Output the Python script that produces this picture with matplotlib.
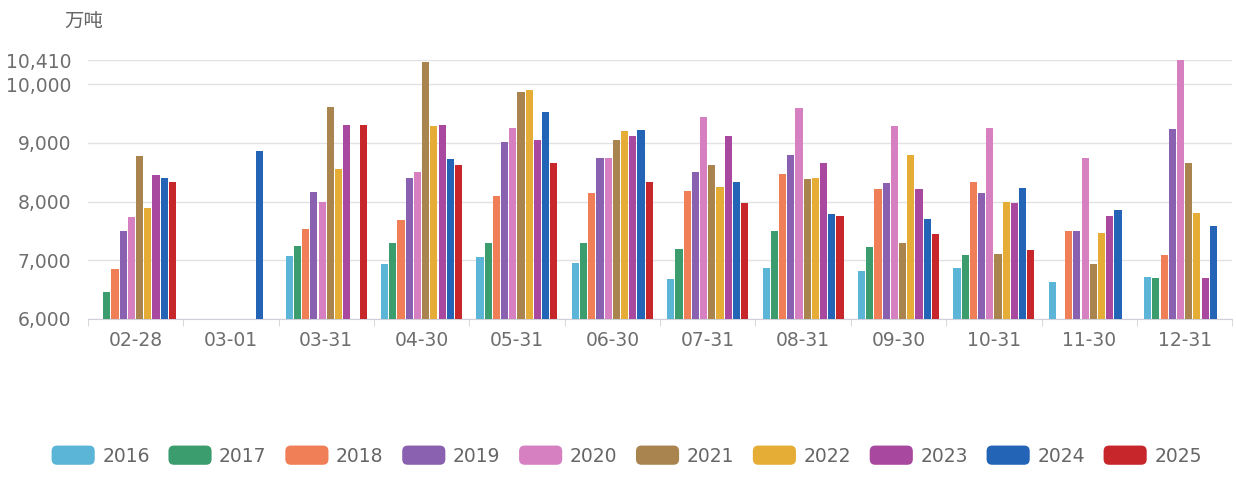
import numpy as np
import matplotlib
matplotlib.use("Agg")
import matplotlib.pyplot as plt
from matplotlib.patches import FancyBboxPatch, Patch
from matplotlib.legend_handler import HandlerPatch

plt.rcParams['font.family'] = ['DejaVu Sans', 'Noto Sans CJK SC']

dates = ['02-28', '03-01', '03-31', '04-30', '05-31', '06-30',
         '07-31', '08-31', '09-30', '10-31', '11-30', '12-31']
years = ['2016', '2017', '2018', '2019', '2020', '2021', '2022', '2023', '2024', '2025']
nan = np.nan

# 万吨，每个年份一条序列，按日期排列
v2016 = [nan, nan, 7070, 6940, 7050, 6950, 6680, 6870, 6820, 6860, 6630, 6710]
v2017 = [6450, nan, 7240, 7290, 7300, 7300, 7190, 7500, 7230, 7080, nan, 6690]
v2018 = [6850, nan, 7540, 7680, 8100, 8140, 8180, 8470, 8220, 8330, 7500, 7090]
v2019 = [7490, nan, 8170, 8410, 9010, 8740, 8500, 8800, 8310, 8150, 7500, 9230]
v2020 = [7740, nan, 7990, 8510, 9250, 8740, 9440, 9590, 9290, 9260, 8740, 10410]
v2021 = [8770, nan, 9620, 10380, 9870, 9050, 8620, 8380, 7290, 7110, 6930, 8660]
v2022 = [7890, nan, 8550, 9290, 9910, 9210, 8250, 8410, 8790, 7990, 7460, 7800]
v2023 = [8450, nan, 9300, 9300, 9050, 9120, 9110, 8660, 8220, 7970, 7750, 6690]
v2024 = [8400, 8870, nan, 8730, 9530, 9220, 8330, 7780, 7710, 8230, 7860, 7590]
v2025 = [8340, nan, 9310, 8620, 8650, 8340, 7980, 7750, 7450, 7170, nan, nan]
series = [v2016, v2017, v2018, v2019, v2020, v2021, v2022, v2023, v2024, v2025]

colors = ['#5bb5d7', '#3b9c6d', '#f07e56', '#8a60b0', '#d680c2',
          '#a9844f', '#e6ad36', '#a9489f', '#2464b6', '#c7262b']

y_ticks = [6000, 7000, 8000, 9000, 10000, 10410]

fig = plt.figure(figsize=(12.36, 4.78), dpi=100)
ax = fig.add_axes([0.071, 0.333, 0.926, 0.541])

x = np.arange(len(dates))
slot = 0.086
for i, (vals, c) in enumerate(zip(series, colors)):
    offs = (i - (len(series) - 1) / 2) * slot
    ax.bar(x + offs, vals, width=0.075, color=c, linewidth=0, zorder=3)

ax.set_xlim(-0.5, len(dates) - 0.5)
ax.set_ylim(6000, 10410)
ax.set_yticks(y_ticks)
ax.set_yticklabels([f'{t:,}' for t in y_ticks])
ax.set_xticks(x)
ax.set_xticklabels(dates)
ax.set_xticks(np.arange(-0.5, len(dates)), minor=True)

ax.grid(axis='y', color='#e1e1e6', linewidth=1, zorder=0)
for s in ['top', 'right', 'left']:
    ax.spines[s].set_visible(False)
ax.spines['bottom'].set_color('#d0d0d8')
ax.tick_params(axis='y', length=0, labelsize=13.5, labelcolor='#6e6e6e', pad=12)
ax.tick_params(axis='x', which='major', length=0, labelsize=13.5, labelcolor='#6e6e6e', pad=9)
ax.tick_params(axis='x', which='minor', length=5, color='#d0d0d8')

fig.text(0.052, 0.955, '万吨', fontsize=14, color='#666666', ha='left', va='center',
         family='Noto Sans CJK SC')


def rounded_patch(legend, orig_handle, xdescent, ydescent, width, height, fontsize):
    return FancyBboxPatch((-xdescent, -ydescent), width, height,
                          boxstyle='round,pad=0,rounding_size=4')


handles = [Patch(facecolor=c, edgecolor='none') for c in colors]
fig.legend(handles, years, loc='center', bbox_to_anchor=(0.507, 0.047),
           ncol=len(years), frameon=False, fontsize=13.5, labelcolor='#666666',
           handlelength=2.3, handleheight=1.2, handletextpad=0.4,
           columnspacing=1.0,
           handler_map={Patch: HandlerPatch(patch_func=rounded_patch)})

fig.savefig('out.png', dpi=100)
